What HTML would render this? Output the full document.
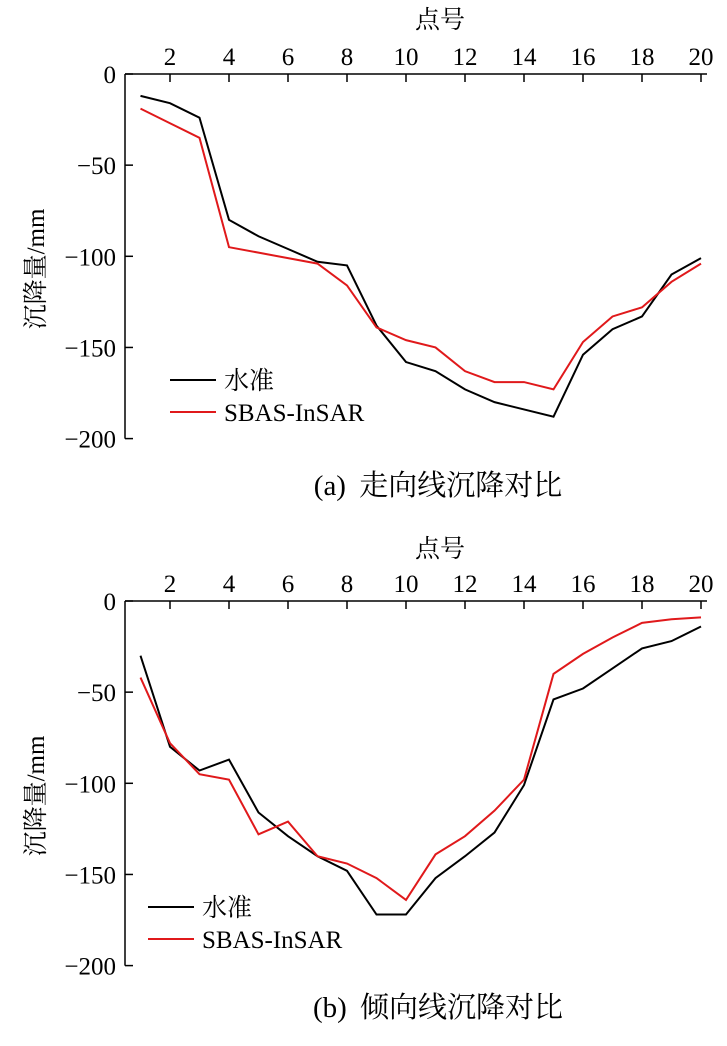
<!DOCTYPE html>
<html><head><meta charset="utf-8">
<style>
body{margin:0;background:#fff;}
svg text{font-family:"Liberation Serif","Noto Serif CJK SC",serif;font-size:25px;fill:#000;}
</style></head>
<body>
<svg id="chart" width="727" height="1041" xmlns="http://www.w3.org/2000/svg"></svg>
<script>
const points = [1,2,3,4,5,6,7,8,9,10,11,12,13,14,15,16,17,18,19,20];
const xTicks = [2,4,6,8,10,12,14,16,18,20];
const yTicks = [0,-50,-100,-150,-200];
const strikeLevel = [-12,-16,-24,-80,-89,-96,-103,-105,-138,-158,-163,-173,-180,-184,-188,-154,-140,-133,-110,-101];
const strikeSbas = [-19,-27,-35,-95,-98,-101,-104,-116,-139,-146,-150,-163,-169,-169,-173,-147,-133,-128,-114,-104];
const dipLevel = [-30,-80,-93,-87,-116,-129,-140,-148,-172,-172,-152,-140,-127,-101,-54,-48,-37,-26,-22,-14];
const dipSbas = [-42,-78,-95,-98,-128,-121,-140,-144,-152,-164,-139,-129,-115,-98,-40,-29,-20,-12,-10,-9];
const panels = [
 {id:'strike', top:74, level:strikeLevel, sbas:strikeSbas, caption:'(a)  走向线沉降对比', legX:170, legY:380, capY:495, titleY:18},
 {id:'dip', top:601, level:dipLevel, sbas:dipSbas, caption:'(b)  倾向线沉降对比', legX:148, legY:907, capY:1017, titleY:547}
];
const svg=document.getElementById('chart');
const NS='http://www.w3.org/2000/svg';
function mk(tag,attrs,parent){const e=document.createElementNS(NS,tag);for(const k in attrs)e.setAttribute(k,attrs[k]);(parent||svg).appendChild(e);return e;}
const x=v=>140.5+(v-1)*29.5;
panels.forEach(p=>{
  const y=v=>p.top-v*1.823;
  const g=mk('g',{});
  
  
  let a=mk('line',{x1:125,y1:p.top,x2:707,y2:p.top,stroke:'#000','stroke-width':1.5},g);
  
  a=mk('line',{x1:125,y1:p.top,x2:125,y2:y(-200),stroke:'#000','stroke-width':1.5},g);
  
  xTicks.forEach(t=>{
    mk('line',{x1:x(t),y1:p.top,x2:x(t),y2:p.top+8,stroke:'#000','stroke-width':1.5},g);
    const tx=mk('text',{x:x(t),y:p.top-9,'text-anchor':'middle'},g);tx.textContent=t;
    
  });
  yTicks.forEach(t=>{
    mk('line',{x1:125,y1:y(t),x2:133,y2:y(t),stroke:'#000','stroke-width':1.5},g);
    const tx=mk('text',{x:116,y:y(t)+9,'text-anchor':'end'},g);tx.textContent=t===0?'0':'−'+(-t);
    
  });
  let t=mk('text',{x:440,y:p.titleY+10,'text-anchor':'middle'},g);t.textContent='点号';
  
  const cy=p.top+195;
  t=mk('text',{x:0,y:0,'text-anchor':'middle',transform:`translate(44,${cy}) rotate(-90)`},g);t.textContent='沉降量/mm';
  
  [[p.level,'#000','水准'],[p.sbas,'#e0191b','SBAS-InSAR']].forEach((s,i)=>{
    const l=mk('polyline',{points:s[0].map((v,j)=>x(points[j])+','+y(v)).join(' '),fill:'none',stroke:s[1],'stroke-width':2},g);
    
    
    const ly=p.legY+i*32;
    const ll=mk('line',{x1:p.legX,y1:ly,x2:p.legX+46,y2:ly,stroke:s[1],'stroke-width':2},g);
    
    const lt=mk('text',{x:p.legX+54,y:ly+9},g);lt.textContent=s[2];
    
  });
  t=mk('text',{x:438,y:p.capY,'text-anchor':'middle',style:'font-size:29px;word-spacing:6px'},g);t.textContent=p.caption;
  
});
</script>
</body></html>
